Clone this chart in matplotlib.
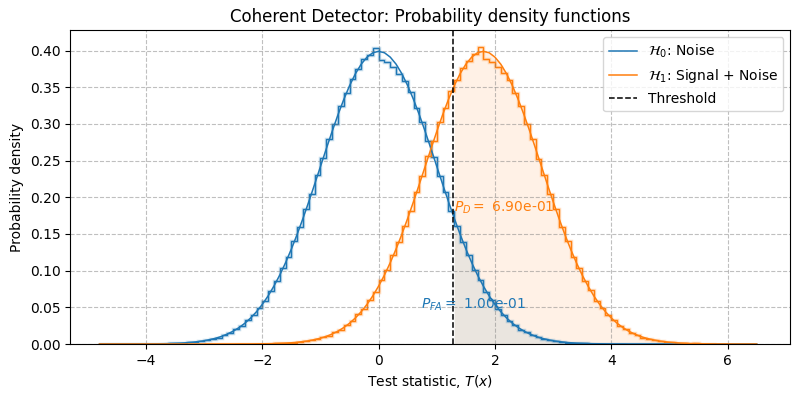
import numpy as np
import matplotlib
matplotlib.use("Agg")
import matplotlib.pyplot as plt

# grid of the density curves (step 0.1)
x_start, x_stop, x_step = -4.8, 6.5, 0.1

# H0 pdf, x = -4.8 ... 6.5
pdf_h0 = [0.0000, 0.0000, 0.0000, 0.0000, 0.0000, 0.0000, 0.0001, 0.0001,
          0.0001, 0.0002, 0.0003, 0.0004, 0.0006, 0.0009, 0.0012, 0.0017, 0.0024, 0.0033,
          0.0044, 0.0060, 0.0079, 0.0104, 0.0136, 0.0175, 0.0224, 0.0283, 0.0355, 0.0440,
          0.0540, 0.0656, 0.0790, 0.0940, 0.1109, 0.1295, 0.1497, 0.1714, 0.1942, 0.2179,
          0.2420, 0.2661, 0.2897, 0.3123, 0.3332, 0.3521, 0.3683, 0.3814, 0.3910, 0.3970,
          0.3989,
          0.3970, 0.3910, 0.3814, 0.3683, 0.3521, 0.3332, 0.3123, 0.2897, 0.2661, 0.2420,
          0.2179, 0.1942, 0.1714, 0.1497, 0.1295, 0.1109, 0.0940, 0.0790, 0.0656, 0.0540,
          0.0440, 0.0355, 0.0283, 0.0224, 0.0175, 0.0136, 0.0104, 0.0079, 0.0060, 0.0044,
          0.0033, 0.0024, 0.0017, 0.0012, 0.0009, 0.0006, 0.0004, 0.0003, 0.0002, 0.0001,
          0.0001, 0.0001, 0.0000, 0.0000, 0.0000, 0.0000, 0.0000, 0.0000,
          0.0000, 0.0000, 0.0000, 0.0000, 0.0000, 0.0000, 0.0000, 0.0000, 0.0000,
          0.0000, 0.0000, 0.0000, 0.0000, 0.0000, 0.0000, 0.0000, 0.0000]

# H1 pdf, same grid
pdf_h1 = [0.0000, 0.0000, 0.0000, 0.0000, 0.0000, 0.0000, 0.0000, 0.0000,
          0.0000, 0.0000, 0.0000, 0.0000, 0.0000, 0.0000, 0.0000, 0.0000,
          0.0000, 0.0000, 0.0000, 0.0000, 0.0000, 0.0000, 0.0000, 0.0000,
          0.0001, 0.0001,
          0.0001, 0.0002, 0.0003, 0.0004, 0.0006, 0.0009, 0.0012, 0.0017, 0.0024, 0.0033,
          0.0044, 0.0060, 0.0079, 0.0104, 0.0136, 0.0175, 0.0224, 0.0283, 0.0355, 0.0440,
          0.0540, 0.0656, 0.0790, 0.0940, 0.1109, 0.1295, 0.1497, 0.1714, 0.1942, 0.2179,
          0.2420, 0.2661, 0.2897, 0.3123, 0.3332, 0.3521, 0.3683, 0.3814, 0.3910, 0.3970,
          0.3989,
          0.3970, 0.3910, 0.3814, 0.3683, 0.3521, 0.3332, 0.3123, 0.2897, 0.2661, 0.2420,
          0.2179, 0.1942, 0.1714, 0.1497, 0.1295, 0.1109, 0.0940, 0.0790, 0.0656, 0.0540,
          0.0440, 0.0355, 0.0283, 0.0224, 0.0175, 0.0136, 0.0104, 0.0079, 0.0060, 0.0044,
          0.0033, 0.0024, 0.0017, 0.0012, 0.0009, 0.0006, 0.0004, 0.0003, 0.0002, 0.0001,
          0.0001, 0.0001, 0.0000, 0.0000, 0.0000, 0.0000, 0.0000]

# histograms (density), bin width 0.1
bin_width = 0.1
h0_first_edge = -4.8
hist_h0 = [0.0001, 0.0000, 0.0000, 0.0001, 0.0000, 0.0001, 0.0002, 0.0001, 0.0003, 0.0002,
           0.0005, 0.0004, 0.0008, 0.0011, 0.0014, 0.0022, 0.0027, 0.0040, 0.0049, 0.0072,
           0.0088, 0.0124, 0.0150, 0.0203, 0.0247, 0.0322, 0.0391, 0.0495, 0.0589, 0.0728,
           0.0856, 0.1031, 0.1192, 0.1402, 0.1597, 0.1835, 0.2050, 0.2308, 0.2533, 0.2791,
           0.3002, 0.3241, 0.3420, 0.3614, 0.3745, 0.3879, 0.3938, 0.4032,
           0.3875, 0.3840, 0.3770, 0.3680, 0.3590, 0.3440, 0.3218, 0.3024, 0.2768, 0.2553,
           0.2288, 0.2071, 0.1815, 0.1613, 0.1385, 0.1209, 0.1015, 0.0870, 0.0714, 0.0602,
           0.0482, 0.0401, 0.0312, 0.0256, 0.0194, 0.0157, 0.0116, 0.0093, 0.0067, 0.0053,
           0.0036, 0.0029, 0.0019, 0.0016, 0.0009, 0.0008, 0.0004, 0.0005, 0.0002, 0.0002,
           0.0001, 0.0001, 0.0000, 0.0001, 0.0000, 0.0000, 0.0000, 0.0001, 0.0000]

h1_first_edge = -3.0
hist_h1 = [0.0000, 0.0000, 0.0000, 0.0000, 0.0000, 0.0001, 0.0000, 0.0001, 0.0002, 0.0003,
           0.0003, 0.0006, 0.0007, 0.0009, 0.0016, 0.0019, 0.0030, 0.0036, 0.0053, 0.0066,
           0.0094, 0.0115, 0.0158, 0.0193, 0.0258, 0.0311, 0.0403, 0.0481, 0.0603, 0.0713,
           0.0872, 0.1014, 0.1210, 0.1384, 0.1615, 0.1812, 0.2072, 0.2286, 0.2556, 0.2765,
           0.3027, 0.3215, 0.3442, 0.3596, 0.3760, 0.3858, 0.3955, 0.4045,
           0.3880, 0.3850, 0.3780, 0.3690, 0.3600, 0.3415, 0.3242, 0.2998, 0.2795, 0.2528,
           0.2310, 0.2047, 0.1838, 0.1592, 0.1405, 0.1191, 0.1032, 0.0855, 0.0730, 0.0588,
           0.0496, 0.0389, 0.0323, 0.0247, 0.0202, 0.0150, 0.0122, 0.0088, 0.0071, 0.0049,
           0.0040, 0.0026, 0.0021, 0.0013, 0.0011, 0.0006, 0.0007, 0.0000, 0.0003, 0.0001]

threshold = 1.2816
p_fa = 1.00e-01
p_d = 6.90e-01

c0 = "#1f77b4"
c1 = "#ff7f0e"

x = np.round(np.arange(x_start, x_stop + x_step / 2, x_step), 1)
pdf_h0 = np.array(pdf_h0)
pdf_h1 = np.array(pdf_h1)
edges_h0 = h0_first_edge + bin_width * np.arange(len(hist_h0) + 1)
edges_h1 = h1_first_edge + bin_width * np.arange(len(hist_h1) + 1)

fig, ax = plt.subplots(figsize=(8, 4), dpi=100)
fig.subplots_adjust(left=0.088, right=0.988, top=0.925, bottom=0.14)

# areas beyond the threshold
ax.fill_between(x, 0, pdf_h0, where=x >= threshold, color=c0, alpha=0.1, lw=0)
ax.fill_between(x, 0, pdf_h1, where=x >= threshold, color=c1, alpha=0.1, lw=0)

# histograms (with a light halo)
ax.stairs(hist_h0, edges_h0, color=c0, lw=2.5, alpha=0.25)
ax.stairs(hist_h0, edges_h0, color=c0, lw=1)
ax.stairs(hist_h1, edges_h1, color=c1, lw=2.5, alpha=0.25)
ax.stairs(hist_h1, edges_h1, color=c1, lw=1)

# theoretical curves
ax.plot(x, pdf_h0, color=c0, lw=1.1, label=r"$\mathcal{H}_0$: Noise")
ax.plot(x, pdf_h1, color=c1, lw=1.1, label=r"$\mathcal{H}_1$: Signal + Noise")
ax.axvline(threshold, color="black", ls="--", lw=1.1, label="Threshold")

ax.text(1.64, 0.053, r"$P_{FA} = $ %.2e" % p_fa, color=c0, fontsize=10,
        ha="center", va="center")
ax.text(1.30, 0.186, r"$P_D = $ %.2e" % p_d, color=c1, fontsize=10,
        ha="left", va="center")

ax.set_xlim(-5.3, 7.08)
ax.set_ylim(0, 0.428)
ax.set_title("Coherent Detector: Probability density functions")
ax.set_xlabel("Test statistic, $T(x)$")
ax.set_ylabel("Probability density")
ax.grid(True, ls="--", color="gray", alpha=0.5)
ax.legend(loc="upper right")

plt.savefig("out.png")
